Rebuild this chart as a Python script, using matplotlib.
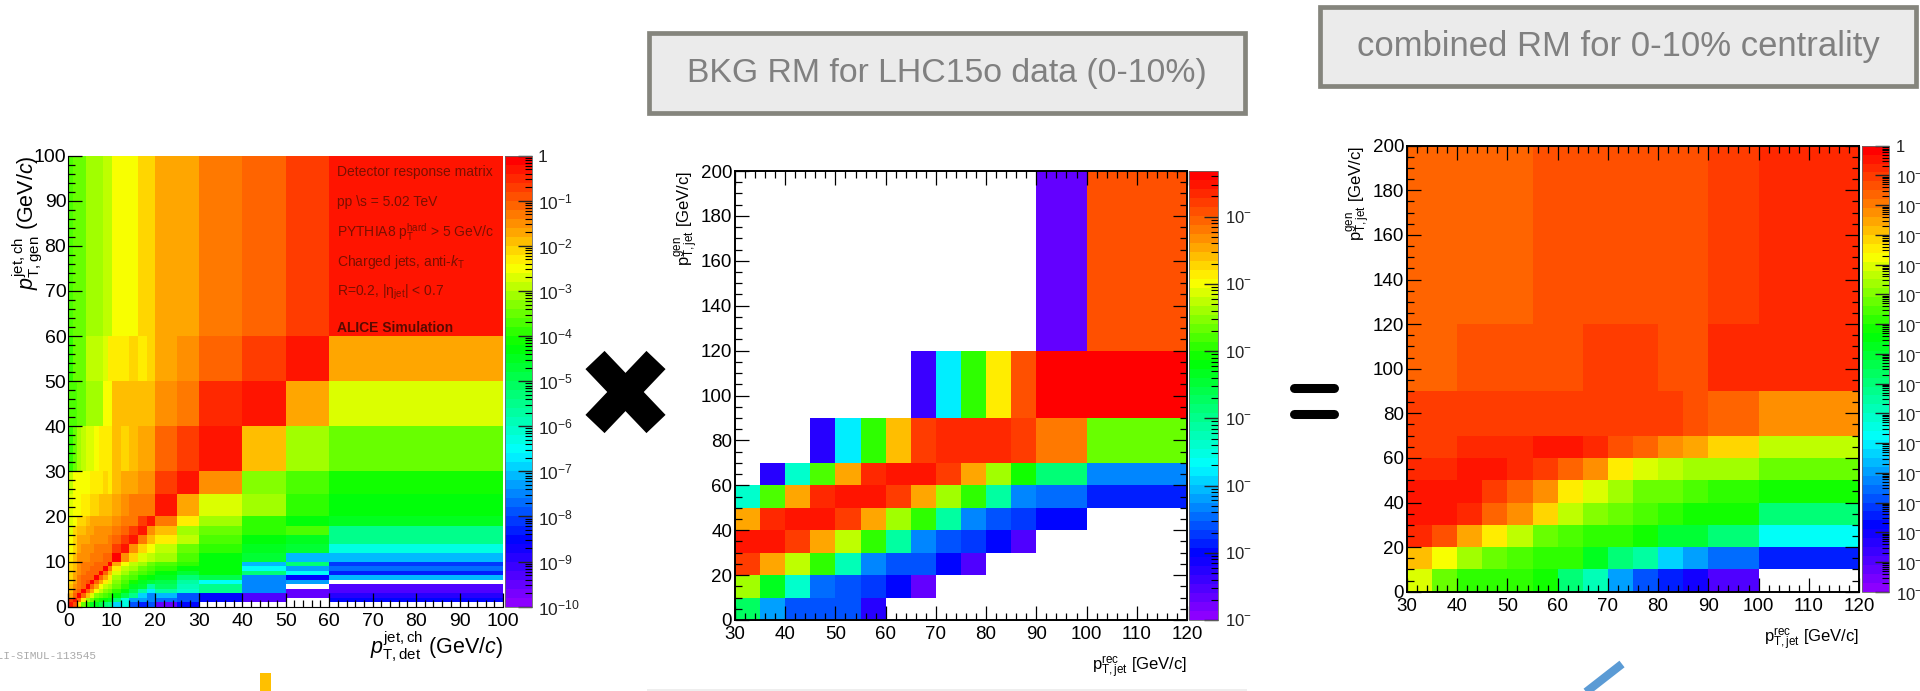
"""Three jet response matrices (detector x background = combined) as in the slide."""

import matplotlib

matplotlib.use("Agg")
import matplotlib.pyplot as plt
import numpy as np
from matplotlib.colors import LinearSegmentedColormap, LogNorm
from matplotlib.patches import Rectangle
from matplotlib.ticker import LogLocator, MultipleLocator, NullFormatter

W, H = 1920, 691
nan = np.nan

# detector RM, log10 of the cell, rows bottom to top
DET_EDGES = [0, 1, 2, 3, 4, 5, 6, 7, 8, 9, 10, 12, 14, 16, 18, 20, 25, 30, 40, 50, 60, 100]
DET_LOG = [
    [-0.4, -0.9, -2.3, -3.4, -4.0, -4.4, -4.6, -4.9, -5.3, -5.6, -7.0, -6.4, -8.0, -8.3, -8.0, -9.5, -8.4, nan, nan, nan, nan],
    [-0.8, -0.3, -1.2, -2.4, -3.2, -3.6, -3.9, -4.1, -4.3, -4.5, -5.4, -6.3, -7.2, -7.3, -7.6, -7.7, -7.9, -8.4, -9.3, nan, -8.6],
    [-1.7, -1.1, -0.15, -1.1, -2.0, -2.8, -3.3, -3.6, -3.8, -4.0, -4.3, -5.0, -5.6, -7.0, -7.4, -7.1, -7.9, -8.4, -9.3, -9.4, -8.9],
    [-1.9, -1.4, -1.1, -0.15, -1.1, -1.8, -2.6, -3.0, -3.3, -3.5, -3.9, -4.3, -4.9, -5.8, -6.8, -5.8, -6.1, -5.6, -7.6, -9.4, -9.3],
    [-2.0, -1.6, -1.3, -1.1, -0.15, -1.1, -1.7, -2.5, -2.9, -3.1, -3.6, -4.0, -4.4, -4.8, -5.8, -5.2, -5.9, -5.6, -7.6, nan, -9.3],
    [-2.1, -1.7, -1.3, -1.2, -1.0, -0.15, -1.1, -1.7, -2.4, -2.8, -3.3, -3.8, -4.1, -4.4, -4.7, -4.9, -5.8, -6.5, -7.6, -7.3, nan],
    [-2.1, -1.8, -1.4, -1.2, -1.1, -1.1, -0.15, -1.1, -1.7, -2.4, -3.1, -3.5, -3.8, -4.1, -4.3, -4.6, -5.3, -5.0, -7.6, -8.6, -7.1],
    [-2.2, -1.8, -1.5, -1.3, -1.2, -1.2, -1.1, -0.15, -1.2, -1.9, -2.8, -3.2, -3.5, -3.8, -3.9, -4.3, -4.8, -4.2, -5.3, -6.6, -8.3],
    [-2.2, -1.9, -1.5, -1.3, -1.3, -1.2, -1.2, -1.1, -0.15, -1.3, -2.4, -2.9, -3.2, -3.5, -3.7, -4.0, -4.2, -4.2, -6.6, -7.3, -7.7],
    [-2.2, -1.9, -1.5, -1.4, -1.3, -1.3, -1.2, -1.2, -1.1, -0.15, -1.7, -2.5, -2.9, -3.2, -3.4, -3.7, -3.9, -4.2, -7.1, -5.4, -8.2],
    [-2.4, -1.9, -1.6, -1.5, -1.45, -1.4, -1.3, -1.25, -1.2, -1.1, -0.2, -1.5, -2.1, -2.7, -3.0, -3.2, -3.7, -4.2, -4.8, -7.1, -7.1],
    [-2.5, -2.1, -1.7, -1.6, -1.5, -1.5, -1.4, -1.4, -1.4, -1.35, -0.8, -0.25, -1.5, -2.2, -2.6, -2.9, -3.4, -4.0, -4.4, -4.7, -6.4],
    [-2.6, -2.1, -1.8, -1.7, -1.7, -1.6, -1.6, -1.5, -1.5, -1.4, -1.1, -0.8, -0.25, -1.35, -2.0, -2.4, -3.0, -3.8, -4.2, -4.5, -5.6],
    [-2.7, -2.2, -2.0, -1.9, -1.7, -1.7, -1.6, -1.6, -1.6, -1.6, -1.4, -1.15, -0.8, -0.25, -1.45, -1.9, -3.1, -3.4, -4.0, -3.7, -5.5],
    [-2.8, -2.5, -2.2, -2.1, -1.9, -1.7, -1.7, -1.7, -1.7, -1.7, -1.45, -1.35, -1.25, -0.75, -0.25, -1.25, -2.4, -3.2, -3.9, -4.3, -4.4],
    [-2.7, -2.5, -2.5, -2.4, -2.4, -2.2, -2.1, -2.0, -1.9, -1.9, -1.7, -1.55, -1.4, -1.3, -1.3, -0.35, -1.7, -2.7, -3.2, -4.0, -4.3],
    [-2.9, -2.6, -2.6, -2.6, -2.6, -2.4, -2.4, -2.4, -2.1, -2.4, -1.9, -1.7, -1.7, -1.45, -1.45, -0.8, -0.35, -1.5, -3.3, -3.7, -4.1],
    [-4.0, -3.6, -3.2, -2.9, -2.7, -2.7, -2.6, -2.4, -2.4, -2.4, -1.9, -2.1, -1.9, -1.7, -1.7, -1.1, -0.75, -0.35, -1.9, -3.1, -3.4],
    [-3.8, -3.7, -3.6, -3.5, -3.2, -3.2, -3.2, -3.2, -2.5, -2.45, -2.0, -2.0, -2.0, -1.85, -1.85, -1.6, -1.4, -0.6, -0.35, -1.7, -2.7],
    [-3.9, -3.6, -3.4, -3.4, -3.0, -3.0, -3.0, -3.0, -2.7, -2.4, -2.4, -2.4, -2.05, -2.4, -2.1, -1.65, -1.55, -1.1, -0.7, -0.35, -1.7],
    [-3.7, -3.6, -3.5, -3.5, -3.2, -3.2, -3.2, -3.2, -3.0, -3.0, -2.5, -2.5, -2.5, -2.2, -2.2, -1.7, -1.7, -1.25, -1.05, -0.75, -0.4],
]

REC_EDGES = [30, 35, 40, 45, 50, 55, 60, 65, 70, 75, 80, 85, 90, 100, 120]
GEN_EDGES = [0, 10, 20, 30, 40, 50, 60, 70, 90, 120, 200]

BKG_LOG = [
    [-4.7, -6.15, -6.55, -6.55, -6.65, -7.2, nan, nan, nan, nan, nan, nan, nan, nan],
    [-3.35, -4.35, -5.45, -6.4, -6.55, -6.75, -7.06, -7.65, nan, nan, nan, nan, nan, nan],
    [-1.85, -2.5, -3.3, -3.95, -5.2, -6.3, -6.55, -6.65, -7.06, -7.55, nan, nan, nan, nan],
    [-1.52, -1.52, -1.85, -2.5, -3.3, -3.95, -5.1, -6.3, -6.65, -6.75, -7.0, -7.55, nan, nan],
    [-2.5, -1.72, -1.52, -1.52, -1.85, -2.5, -3.35, -3.95, -5.1, -6.3, -6.65, -6.75, -7.0, nan],
    [-5.33, -3.82, -2.5, -1.72, -1.52, -1.52, -1.85, -2.5, -3.35, -3.95, -5.1, -6.3, -6.4, -6.85],
    [nan, -7.25, -5.33, -3.82, -2.5, -1.72, -1.52, -1.52, -1.85, -2.5, -3.35, -4.0, -4.92, -6.3],
    [nan, nan, nan, -7.25, -5.73, -3.95, -2.65, -1.85, -1.62, -1.62, -1.62, -1.85, -2.18, -3.67],
    [nan, nan, nan, nan, nan, nan, nan, -7.45, -5.73, -3.95, -2.8, -1.98, -1.32, -1.32],
    [nan, nan, nan, nan, nan, nan, nan, nan, nan, nan, nan, nan, -7.6, -1.98],
]

COMBINED_LOG = [
    [-4.2, -5.3, -5.75, -5.75, -5.9, -6.1, -7.9, -9.0, -10.9, -11.8, -12.6, -12.9, -14.0, nan],
    [-2.85, -3.75, -4.7, -5.2, -5.6, -5.75, -5.9, -6.7, -8.1, -8.5, -10.3, -10.9, -11.6, -12.6],
    [-0.9, -1.5, -2.6, -3.35, -4.4, -5.2, -5.5, -5.75, -5.9, -6.1, -7.0, -7.0, -8.1, -9.9],
    [-0.6, -0.6, -0.9, -1.6, -2.4, -3.2, -4.4, -4.85, -5.3, -5.6, -5.9, -6.1, -6.1, -8.1],
    [-0.6, -0.6, -0.6, -1.2, -1.6, -2.4, -3.35, -4.2, -4.7, -5.2, -5.3, -5.5, -5.75, -6.1],
    [-0.9, -0.9, -0.6, -0.6, -0.85, -1.2, -1.6, -2.4, -3.35, -4.2, -4.4, -4.55, -4.55, -5.3],
    [-1.15, -1.15, -0.85, -0.85, -0.85, -0.5, -0.5, -0.85, -1.3, -1.6, -2.4, -2.7, -3.05, -4.4],
    [-1.2, -1.2, -1.2, -1.2, -0.95, -0.95, -0.95, -0.95, -0.95, -0.95, -0.95, -1.3, -1.65, -2.4],
    [-1.6, -1.6, -1.35, -1.35, -1.35, -1.35, -1.35, -1.05, -1.05, -1.05, -1.35, -1.35, -0.75, -0.75],
    [-1.6, -1.6, -1.6, -1.6, -1.6, -1.35, -1.35, -1.35, -1.35, -1.35, -1.35, -1.35, -1.1, -0.75],
]

DET_INFO = [
    "Detector response matrix",
    "pp \\s = 5.02 TeV",
    "PYTHIA8 p$_{T}^{hard}$ > 5 GeV/c",
    "Charged jets, anti-$\\mathit{k}_{T}$",
    "R=0.2, |η$_{jet}$| < 0.7",
]

PALETTE = [
    (0.0, "#8c00ff"), (0.14, "#0000ff"), (0.34, "#00ffff"), (0.58, "#00ff00"),
    (0.76, "#ffff00"), (0.87, "#ff8000"), (1.0, "#ff0000"),
]

plt.rcParams.update({
    "font.family": "Liberation Sans",
    "mathtext.fontset": "custom",
    "mathtext.rm": "Liberation Sans",
    "mathtext.it": "Liberation Sans:italic",
    "mathtext.bf": "Liberation Sans:bold",
    "mathtext.default": "regular",
})
RAINBOW = LinearSegmentedColormap.from_list("root_rainbow", PALETTE, N=50)
RAINBOW.set_bad("white")


def px_axes(fig, left, top, right, bottom):
    return fig.add_axes([left / W, 1 - bottom / H, (right - left) / W, (bottom - top) / H])


def draw_rm(fig, box, cbox, x_edges, y_edges, log_vals, zrange):
    ax = px_axes(fig, *box)
    norm = LogNorm(10.0 ** zrange[0], 10.0 ** zrange[1])
    values = np.ma.masked_invalid(10.0 ** np.array(log_vals, dtype=float))
    mesh = ax.pcolormesh(x_edges, y_edges, values, cmap=RAINBOW, norm=norm, linewidth=0)
    ax.set_xlim(x_edges[0], x_edges[-1])
    ax.set_ylim(y_edges[0], y_edges[-1])
    ax.tick_params(which="major", direction="in", length=10, width=0.9, labelsize=13.5)
    ax.tick_params(which="minor", direction="in", length=5, width=0.9)
    ax.tick_params(axis="x", which="major", pad=4.3)
    ax.tick_params(axis="y", which="major", pad=2)

    cax = px_axes(fig, *cbox)
    bar = fig.colorbar(mesh, cax=cax)
    bar.outline.set_linewidth(0.6)
    bar.outline.set_edgecolor("#666666")
    cax.yaxis.set_minor_locator(LogLocator(base=10, subs=range(2, 10), numticks=100))
    cax.yaxis.set_minor_formatter(NullFormatter())
    cax.tick_params(which="major", direction="in", length=10, width=1, labelsize=12, pad=5, colors="#222222")
    cax.tick_params(which="minor", direction="in", length=5, width=0.8)
    return ax, cax


fig = plt.figure(figsize=(W / 100, H / 100), dpi=100)

# slide decoration lives in one full-figure pixel axes
deco = fig.add_axes([0, 0, 1, 1])
deco.set_xlim(0, W)
deco.set_ylim(H, 0)
deco.axis("off")
for (x0, y0, x1, y1), label, size in [
    ((647, 31, 1247, 115), "BKG RM for LHC15o data (0-10%)", 24.3),
    ((1318, 5, 1918, 88), "combined RM for 0-10% centrality", 24.9),
]:
    deco.add_patch(Rectangle((x0 + 2, y0 + 2), x1 - x0 - 4, y1 - y0 - 4, fc="#ebebeb", ec="#85857d", lw=3.4))
    deco.text((x0 + x1) / 2, (y0 + y1) / 2, label, color="#808080", fontsize=size, ha="center", va="center")
deco.plot([595, 656], [360, 424], color="black", lw=19, solid_capstyle="butt")
deco.plot([595, 656], [424, 360], color="black", lw=19, solid_capstyle="butt")
deco.plot([1294, 1334], [388, 388], color="black", lw=6.5, solid_capstyle="round")
deco.plot([1294, 1334], [414, 414], color="black", lw=6.5, solid_capstyle="round")
deco.add_patch(Rectangle((260, 673), 11, 18, fc="#ffc000", ec="none"))
deco.plot([1581, 1622], [696, 664], color="#5b9bd5", lw=6, solid_capstyle="butt")
deco.add_patch(Rectangle((647, 689), 600, 2, fc="#eeeeee", ec="none"))
deco.text(-10, 656, "ALI-SIMUL-113545", family="Liberation Mono", color="#aaaaaa", fontsize=8, va="center")

# detector matrix
ax, cax = draw_rm(fig, (68.4, 155.6, 503, 606.7), (505, 155.6, 532, 606.7), DET_EDGES, DET_EDGES, DET_LOG, (-10, 0))
ax.tick_params(labelsize=14)
ax.tick_params(axis="y", which="major", pad=1.5)
ax.spines["top"].set_visible(False)
ax.spines["right"].set_visible(False)
ax.xaxis.set_major_locator(MultipleLocator(10))
ax.xaxis.set_minor_locator(MultipleLocator(2))
ax.yaxis.set_major_locator(MultipleLocator(10))
ax.yaxis.set_minor_locator(MultipleLocator(2))
for side in ("left", "bottom"):
    ax.spines[side].set_linewidth(0.8)
ax.set_xlabel("$\\mathit{p}_{T,det}^{jet,ch}$ (GeV/$\\mathit{c}$)", fontsize=15.5, loc="right", labelpad=0)
ax.set_ylabel("$\\mathit{p}_{T,gen}^{jet,ch}$ (GeV/$\\mathit{c}$)", fontsize=15.5, loc="top", labelpad=-8)
cax.set_yticks([10.0 ** -i for i in range(11)], ["1"] + [f"$10^{{-{i}}}$" for i in range(1, 11)])
cax.tick_params(which="major", labelsize=12.5, pad=4)
for i, line in enumerate(DET_INFO):
    fig.text(337 / W, 1 - (172 + 30 * i) / H, line, color="#7a1000", fontsize=10, va="center")
fig.text(337 / W, 1 - 328 / H, "ALICE Simulation", color="#5a0a00", fontsize=10, fontweight="bold", va="center")

for box, cbox, vals, zrange, labels in [
    ((735, 171, 1187, 620), (1189.3, 171, 1217.7, 620), BKG_LOG, (-8, -1.32), None),
    ((1407, 145.7, 1859, 591.7), (1861.7, 145.7, 1889.3, 591.7), COMBINED_LOG, (-15, 0), True),
]:
    ax, cax = draw_rm(fig, box, cbox, REC_EDGES, GEN_EDGES, vals, zrange)
    ax.xaxis.set_major_locator(MultipleLocator(10))
    ax.xaxis.set_minor_locator(MultipleLocator(2))
    ax.yaxis.set_major_locator(MultipleLocator(20))
    ax.yaxis.set_minor_locator(MultipleLocator(5))
    ax.tick_params(which="both", top=True, right=True)
    for spine in ax.spines.values():
        spine.set_linewidth(1.4)
    ax.set_xlabel("p$_{T,jet}^{rec}$ [GeV/c]", fontsize=12, loc="right", labelpad=8)
    ax.set_ylabel("p$_{T,jet}^{gen}$ [GeV/c]", fontsize=12, loc="top", labelpad=0)
    if labels:
        cax.set_yticks([10.0 ** -i for i in range(16)],
                       ["1"] + [f"$10^{{-{i}}}$" for i in range(1, 16)])
    else:
        cax.set_yticks([10.0 ** -i for i in range(2, 9)], ["10$^{-}$"] * 7)

fig.savefig("out.png", dpi=100)
